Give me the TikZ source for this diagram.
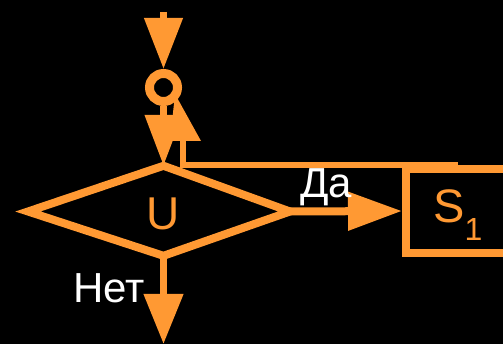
\documentclass[tikz,border=0pt]{standalone}
\usepackage{fontspec}
\setmainfont{Liberation Sans}
\usetikzlibrary{arrows.meta}
\definecolor{org}{RGB}{255,153,51}
\begin{document}
\begin{tikzpicture}[x=1pt,y=-1pt,
  conn/.style={draw=org,line width=7.5pt},
  lbl/.style={text=white,anchor=base west,inner sep=0pt,font=\fontsize{42}{44}\selectfont},
  ring/.style={draw=org,line width=9pt,circle,minimum size=28pt,inner sep=0pt},
  procbox/.style={draw=org,line width=8pt,minimum width=154pt,minimum height=84pt,inner sep=0pt}]
\fill[black] (0,0) rectangle (503,344);
\useasboundingbox (0,0) rectangle (503,344);
\clip (0,0) rectangle (503,344);

% nodes and coordinates
\coordinate (start) at (163.5,12);
\node[ring] (c) at (163.5,87.5) {};
\coordinate (dT) at (163.5,165.8);
\coordinate (dB) at (163.5,255.8);
\coordinate (dL) at (28,211.5);
\coordinate (dR) at (290,211.5);
\draw[org,line width=8pt] (dT) -- (dR) -- (dB) -- (dL) -- cycle;
\node[text=org,font=\fontsize{46}{48}\selectfont,anchor=base,inner sep=0pt] (U) at (163.5,229.5) {U};
\node[procbox] (S) at (483,211) {};
\node[text=org,anchor=base west,inner sep=0pt] (St) at (433,222.5)
  {\fontsize{47}{50}\selectfont S\raisebox{-18.5pt}{\fontsize{32}{34}\selectfont 1}};
\coordinate (out) at (163.5,344);
\coordinate (ret) at (458,165);
\coordinate (upb) at (183,141);
\coordinate (uptip) at (175,94);

% connectors
\draw[conn,-{Triangle[length=51pt,width=37pt]}] (start) -- (c.north);
\draw[conn,-{Triangle[length=51pt,width=36pt]}] (c.south) -- (dT);
\draw[conn,line width=8pt,-{Triangle[length=54pt,width=37pt]}] (dR) -- (S.west);
\draw[conn,-{Triangle[length=50pt,width=38pt]}] (dB) -- (out);
\draw[org,line width=6pt] (ret) -| (upb);
\fill[org] (upb) ++(-13,0) -- ++(31,0) -- (uptip) -- cycle;

% labels
\node[lbl] (yes) at (300,198) {Да};
\node[lbl] (no) at (73,303) {Нет};
\end{tikzpicture}
\end{document}
